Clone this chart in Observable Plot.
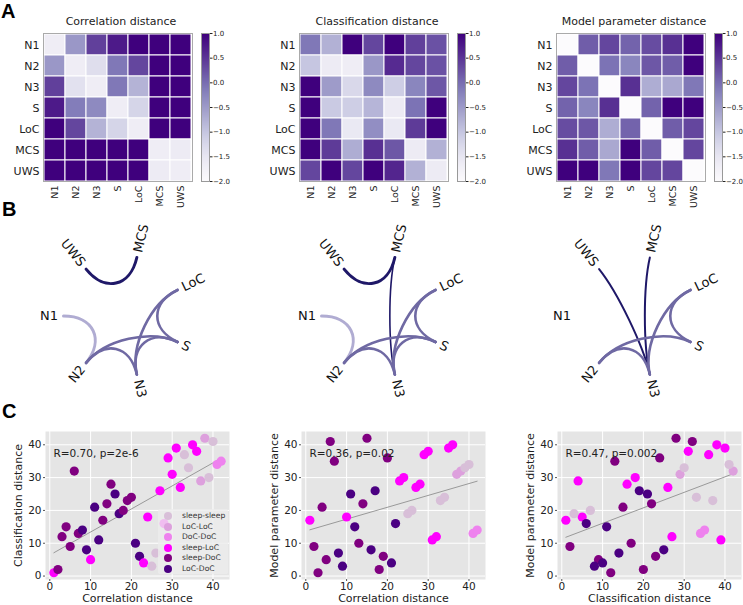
<!DOCTYPE html>
<html><head><meta charset="utf-8">
<script src="https://cdn.jsdelivr.net/npm/d3@7"></script>
<script src="https://cdn.jsdelivr.net/npm/@observablehq/plot@0.6"></script>
<style>
html,body{margin:0;padding:0;background:#fff;}
#fig{position:relative;width:743px;height:605px;overflow:hidden;font-family:"DejaVu Sans",sans-serif;}
.panel{position:absolute;font-family:"Liberation Sans",Arial,sans-serif;font-weight:bold;font-size:20px;line-height:1;color:#000;}
.legend{position:absolute;background:rgba(236,236,236,0.8);border-radius:2px;font-family:"DejaVu Sans",sans-serif;font-size:7.6px;color:#333;}
.legend .row{position:absolute;left:0;height:10px;white-space:nowrap;}
.legend .sw{position:absolute;left:6px;top:1px;width:8px;height:8px;border-radius:50%;}
.legend .lb{position:absolute;left:24px;top:0;line-height:10px;}
</style></head><body><div id="fig"></div>
<script>
// ---------- DATA ----------
const states = ["N1","N2","N3","S","LoC","MCS","UWS"];

const corrMatrix = [
  [-1.65,-0.45, 0.40, 0.75, 1.00, 1.00, 1.00],
  [-0.45,-1.65,-1.35,-0.10, 0.35, 1.00, 1.00],
  [ 0.40,-1.40,-1.65,-0.10,-0.77, 1.00, 1.00],
  [ 0.75,-0.15,-0.30,-1.65,-1.20, 1.00, 1.00],
  [ 1.00, 0.35,-0.77,-1.20,-1.65, 1.00, 1.00],
  [ 1.00, 1.00, 1.00, 1.00, 1.00,-1.65,-1.60],
  [ 1.00, 1.00, 1.00, 1.00, 1.00,-1.60,-1.65]
];
const classMatrix = [
  [-0.10,-0.75, 1.00, 0.35, 1.00, 0.40, 0.25],
  [-1.00,-1.60,-1.65,-0.45, 0.60, 0.35, 0.25],
  [ 1.00,-0.50,-1.25,-0.30,-1.10,-0.25, 0.20],
  [ 1.00,-1.05,-1.10,-0.80,-1.60,-0.05, 1.00],
  [ 1.00,-0.10,-1.55,-0.35,-1.55, 0.45, 1.00],
  [ 1.00, 0.45,-0.70, 0.55, 0.20,-1.60,-0.75],
  [ 0.35, 1.00, 0.35, 1.00, 0.65,-0.75,-1.60]
];
const modelMatrix = [
  [-2.00, 0.15, 0.35, 0.10, 0.30, 0.55, 1.00],
  [ 0.15,-2.00,-0.05,-0.25, 0.20, 0.15, 1.00],
  [ 0.35,-0.05,-2.00, 0.55,-0.70,-0.65,-0.10],
  [ 0.10,-0.25, 0.55,-2.00, 0.10, 1.00, 1.00],
  [ 0.30, 0.20,-0.70, 0.10,-2.00, 0.15, 0.35],
  [ 0.55, 0.15,-0.65, 1.00, 0.15,-2.00, 0.35],
  [ 1.00, 1.00,-0.10, 1.00, 0.35, 0.35,-2.00]
];
const colorbarTicks = [-2, -1.5, -1, -0.5, 0, 0.5, 1];

// network edges: [from, to, strength, width]
const edgesCorr = [
  ["UWS","MCS",0.97,3],["N1","N2",0.17,3],["N2","S",0.53,2.6],["N2","N3",0.53,2.6],
  ["N3","LoC",0.53,2.6],["N3","S",0.53,2.6],["LoC","S",0.53,2.6]
];
const edgesClass = [
  ["UWS","MCS",0.97,3],["MCS","N3",0.97,1.6],["N1","N2",0.17,3],["N2","S",0.53,2.6],["N2","N3",0.53,2.6],
  ["N3","LoC",0.53,2.6],["N3","S",0.53,2.6],["LoC","S",0.53,2.6]
];
const edgesModel = [
  ["UWS","N3",0.97,2],["MCS","N3",0.97,2],["N2","S",0.53,2.6],["N2","N3",0.53,2.6],
  ["N3","LoC",0.53,2.6],["LoC","S",0.53,2.6]
];

// scatter data (ranks)
const corrRank  = [1,2,3,4,5,6,7,8,9,10,11,12,13,14,15,16,17,18,19,20,21,22,23,24,25,26,27,28,29,30,31,32,33,34,35,36,37,38,39,40,41,42];
const classRank = [1,2,12,15,9,32,13,14,8,5,21,11,17,22,28,25,19,20,23,24,10,6,4,18,3,7,26,16,36,31,39,27,37,33,40,38,29,42,30,41,34,35];
const modelRank = [17,9,1,21,5,41,35,7,3,18,25,15,10,22,42,8,26,2,6,36,4,16,29,30,19,20,27,28,37,38,11,12,23,24,39,40,31,32,33,34,13,14];
const pairType = ["sleep-LoC","sleep-DoC","sleep-DoC","sleep-DoC","sleep-DoC","sleep-DoC","sleep-DoC","LoC-DoC","LoC-DoC","sleep-LoC",
  "LoC-DoC","LoC-DoC","sleep-DoC","sleep-DoC","sleep-DoC","LoC-DoC","LoC-DoC","sleep-DoC","sleep-DoC","sleep-DoC",
  "LoC-DoC","LoC-DoC","sleep-LoC","sleep-LoC","sleep-sleep","sleep-sleep","sleep-LoC","sleep-LoC","sleep-LoC","sleep-LoC",
  "sleep-LoC","sleep-LoC","sleep-sleep","sleep-sleep","sleep-LoC","sleep-LoC","LoC-LoC","LoC-LoC","sleep-sleep","sleep-sleep",
  "DoC-DoC","DoC-DoC"];
const pairTypes = ["sleep-sleep","LoC-LoC","DoC-DoC","sleep-LoC","sleep-DoC","LoC-DoC"];
const pairColors = ["thistle","plum","violet","magenta","purple","indigo"];
const scatterTicks = [0,10,20,30,40];

// ---------- DRAW ----------
const fig = document.getElementById("fig");
function place(el, left, top) {
  el.style.position = "absolute"; el.style.left = left + "px"; el.style.top = top + "px";
  fig.appendChild(el);
}
const FONT = "DejaVu Sans";

function heatmap(matrix, title, left) {
  const cells = [];
  matrix.forEach((row, i) => row.forEach((v, j) => cells.push({row: states[i], col: states[j], v})));
  const p = Plot.plot({
    width: 200, height: 220, marginTop: 33, marginLeft: 43, marginRight: 8, marginBottom: 39,
    style: {fontFamily: FONT, background: "transparent", color: "#222"},
    x: {domain: states, padding: 0, label: null},
    y: {domain: states, padding: 0, label: null},
    color: {type: "linear", scheme: "purples", domain: [-2, 1]},
    marks: [
      Plot.cell(cells, {x: "col", y: "row", fill: "v", stroke: "white", strokeWidth: 1}),
      Plot.frame({stroke: "#aaa"}),
      Plot.axisX({tickRotate: -90, tickSize: 0, tickPadding: 4, fontSize: 9.5, label: null}),
      Plot.axisY({tickSize: 0, tickPadding: 4, fontSize: 11, label: null}),
      Plot.text([title], {text: d => d, frameAnchor: "top", dy: -16, dx: 3, fontSize: 11, fill: "#222"})
    ]
  });
  place(p, left, 0);
  const cb = Plot.plot({
    width: 35, height: 220, marginTop: 33, marginBottom: 39, marginLeft: 6, marginRight: 21,
    style: {fontFamily: FONT, background: "transparent", color: "#222", overflow: "visible"},
    x: {domain: [0, 1], axis: null},
    y: {domain: [-2, 1]},
    color: {type: "linear", scheme: "purples", domain: [-2, 1]},
    marks: [
      Plot.raster({fill: (x, y) => y, x1: 0, x2: 1, y1: -2, y2: 1, width: 1, height: 148}),
      Plot.frame({stroke: "#999"}),
      Plot.axisY({anchor: "right", ticks: colorbarTicks, tickFormat: d3.format(".1f"), tickSize: 2.5, tickPadding: 1, fontSize: 7, label: null})
    ]
  });
  place(cb, left + 195, 0);
}
heatmap(corrMatrix, "Correlation distance", 0);
heatmap(classMatrix, "Classification distance", 256);
heatmap(modelMatrix, "Model parameter distance", 513);

// networks
function bezier4(context) {
  let pts = [];
  return {
    areaStart() {}, areaEnd() {},
    lineStart() { pts = []; },
    point(x, y) { pts.push([+x, +y]); },
    lineEnd() {
      if (pts.length === 4) {
        context.moveTo(pts[0][0], pts[0][1]);
        context.bezierCurveTo(pts[1][0], pts[1][1], pts[2][0], pts[2][1], pts[3][0], pts[3][1]);
      } else if (pts.length) {
        context.moveTo(pts[0][0], pts[0][1]);
        for (const q of pts.slice(1)) context.lineTo(q[0], q[1]);
      }
    }
  };
}
const angle = s => Math.PI - states.indexOf(s) * 2 * Math.PI / states.length;

function network(edges, cx, cy) {
  const R = 60, W = 256, H = 190, left = cx - W / 2, top = 215;
  const rows = [];
  edges.forEach(([a, b, v, w], k) => {
    const ta = angle(a), tb = angle(b);
    [[ta, 1], [ta, 0.5], [tb, 0.5], [tb, 1]].forEach(([t, r]) =>
      rows.push({id: k, x: r * Math.cos(t), y: r * Math.sin(t), v, w}));
  });
  const labels = states.map(s => {
    const t = angle(s), deg = t * 180 / Math.PI;
    const right = Math.cos(t) > 0.01;
    return {s, x: 1.09 * Math.cos(t), y: 1.09 * Math.sin(t), rot: right ? deg : deg + 180, right};
  });
  const p = Plot.plot({
    width: W, height: H, margin: 0,
    style: {fontFamily: FONT, background: "transparent", overflow: "visible"},
    x: {domain: [(left - cx) / R, (left + W - cx) / R], axis: null},
    y: {domain: [(top + H - cy) / R, (top - cy) / R], axis: null},
    color: {type: "linear", domain: [0, 1], range: ["#cfcbe9", "#1a1264"]},
    marks: [
      Plot.line(rows, {x: "x", y: "y", z: "id", stroke: "v", strokeWidth: "w", curve: bezier4}),
      Plot.text(labels.filter(d => d.right), {x: "x", y: "y", text: "s", rotate: "rot", textAnchor: "start", fontSize: 13, fill: "#111"}),
      Plot.text(labels.filter(d => !d.right), {x: "x", y: "y", text: "s", rotate: "rot", textAnchor: "end", fontSize: 13, fill: "#111"})
    ]
  });
  place(p, left, top);
}
network(edgesCorr, 123, 315.5);
network(edgesClass, 380.5, 315.5);
network(edgesModel, 636, 315.5);

// scatters
function scatter(xs, ys, xlabel, ylabel, stat, left) {
  const data = xs.map((x, i) => ({x, y: ys[i], t: pairType[i]}));
  const p = Plot.plot({
    width: 240, height: 180, marginLeft: 45, marginRight: 11, marginTop: 6, marginBottom: 26,
    style: {fontFamily: FONT, background: "transparent", color: "#222", overflow: "visible"},
    x: {domain: [-1.05, 44.05]},
    y: {domain: [-1.05, 44.05]},
    color: {domain: pairTypes, range: pairColors},
    marks: [
      Plot.frame({fill: "#e5e5e5", stroke: null}),
      Plot.gridX({ticks: scatterTicks, stroke: "white", strokeOpacity: 1, strokeWidth: 1}),
      Plot.gridY({ticks: scatterTicks, stroke: "white", strokeOpacity: 1, strokeWidth: 1}),
      Plot.axisX({ticks: scatterTicks, tickSize: 2, tickPadding: 1, fontSize: 10.5, label: null, stroke: "#555"}),
      Plot.axisY({ticks: scatterTicks, tickSize: 2, tickPadding: 2, fontSize: 10.5, label: null, stroke: "#555"}),
      Plot.linearRegressionY(data, {x: "x", y: "y", stroke: "#999", strokeWidth: 1, ci: 0}),
      Plot.dot(data, {x: "x", y: "y", fill: "t", r: 4.6}),
      Plot.text([stat], {text: d => d, frameAnchor: "top-left", dx: 8, dy: 18, textAnchor: "start", fontSize: 10.5, fill: "#222"}),
      Plot.text([xlabel], {text: d => d, frameAnchor: "bottom", dy: 22, textAnchor: "middle", fontSize: 11, fill: "#222"}),
      Plot.text([ylabel], {text: d => d, frameAnchor: "left", dx: -27, rotate: -90, textAnchor: "middle", fontSize: 11, fill: "#222"})
    ]
  });
  place(p, left, 425);
}
scatter(corrRank, classRank, "Correlation distance", "Classification distance", "R=0.70, p=2e-6", 0);
scatter(corrRank, modelRank, "Correlation distance", "Model parameter distance", "R=0.36, p=0.02", 256);
scatter(classRank, modelRank, "Classification distance", "Model parameter distance", "R=0.47, p=0.002", 512);

// legend (in first scatter)
const lg = document.createElement("div");
lg.className = "legend";
lg.style.left = "158px"; lg.style.top = "509px"; lg.style.width = "70px"; lg.style.height = "65px";
pairTypes.forEach((t, i) => {
  const r = document.createElement("div");
  r.className = "row"; r.style.top = (2 + i * 10.5) + "px";
  r.innerHTML = `<span class="sw" style="background:${pairColors[i]}"></span><span class="lb">${t}</span>`;
  lg.appendChild(r);
});
fig.appendChild(lg);

// panel letters
[["A", 1, 1], ["B", 2, 199], ["C", 2, 401]].forEach(([t, x, y]) => {
  const d = document.createElement("div");
  d.className = "panel"; d.textContent = t; d.style.left = x + "px"; d.style.top = y + "px";
  fig.appendChild(d);
});
</script></body></html>
